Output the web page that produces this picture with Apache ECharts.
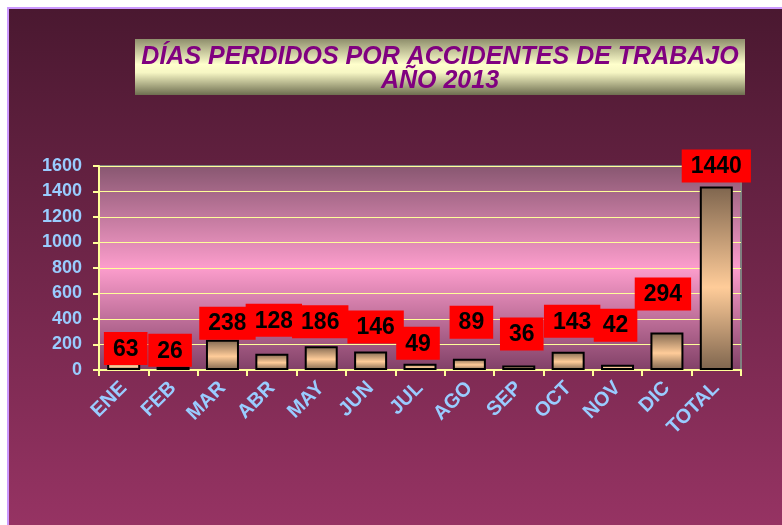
<!DOCTYPE html>
<html lang="es">
<head>
    <meta charset="UTF-8">
    <title>Días perdidos por accidentes de trabajo 2013</title>
    <script src="https://cdn.jsdelivr.net/npm/echarts@6/dist/echarts.min.js"></script>
    <style>
        html, body { margin: 0; padding: 0; background: #ffffff; }
        #frame {
            position: absolute; left: 7px; top: 7px;
            width: 775px; height: 518px;
            border-left: 2px solid #cc99ff; border-top: 2px solid #cc99ff;
        }
        #chart { width: 773px; height: 516px; }
    </style>
</head>
<body>
<div id="frame"><div id="chart"></div></div>
<script type="text/javascript">
    // datos
    var meses = ['ENE', 'FEB', 'MAR', 'ABR', 'MAY', 'JUN', 'JUL', 'AGO', 'SEP', 'OCT', 'NOV', 'DIC', 'TOTAL'];
    var dias = [63, 26, 238, 128, 186, 146, 49, 89, 36, 143, 42, 294, 1440];
    var ticksY = [0, 200, 400, 600, 800, 1000, 1200, 1400, 1600];

    // desplazamiento de cada etiqueta (como quedaron en el original)
    var despl = [[2, 3], [-3, 0], [5, 0], [2, -17], [-1, -8], [5, -8], [-2, -4],
                 [2, -20], [3, -15], [4, -14], [-2, -23], [-4, -22], [0, -4]];

    var myChart = echarts.init(document.getElementById('chart'));

    var datos = dias.map(function (v, i) {
        return { value: v, label: { offset: despl[i] } };
    });

    var option = {
        animation: false,
        backgroundColor: new echarts.graphic.LinearGradient(0, 0, 0, 1, [
            { offset: 0, color: '#4a1830' },
            { offset: 1, color: '#963363' }
        ]),
        graphic: [
            {
                type: 'rect', z: 1,
                shape: { x: 126, y: 30, width: 610, height: 56 },
                style: {
                    fill: new echarts.graphic.LinearGradient(0, 0, 0, 1, [
                        { offset: 0, color: '#8e8e6c' },
                        { offset: 0.45, color: '#ffffcc' },
                        { offset: 0.6, color: '#f6f6c4' },
                        { offset: 1, color: '#6e6e50' }
                    ])
                }
            },
            {
                type: 'text', z: 2,
                x: 431, y: 60,
                style: {
                    text: 'DÍAS PERDIDOS POR ACCIDENTES DE TRABAJO\nAÑO 2013',
                    fill: '#800080',
                    font: 'italic bold 25px "Liberation Sans", Arial, sans-serif',
                    lineHeight: 24,
                    align: 'center',
                    verticalAlign: 'middle'
                }
            }
        ],
        grid: {
            left: 90, top: 157, right: 41, bottom: 155,
            show: true,
            borderColor: '#808080', borderWidth: 2,
            backgroundColor: new echarts.graphic.LinearGradient(0, 0, 0, 1, [
                { offset: 0, color: '#875670' },
                { offset: 0.5, color: '#fc9dcc' },
                { offset: 1, color: '#804066' }
            ])
        },
        xAxis: {
            type: 'category',
            data: meses,
            axisLine: { lineStyle: { color: '#ffff99', width: 2 } },
            axisTick: { show: true, length: 6, lineStyle: { color: '#ffff99', width: 2 } },
            axisLabel: {
                rotate: 45, margin: 15, interval: 0,
                color: '#99ccff', fontSize: 20, fontWeight: 'bold',
                fontFamily: '"Liberation Sans", Arial, sans-serif'
            }
        },
        yAxis: {
            type: 'value',
            min: ticksY[0], max: ticksY[ticksY.length - 1], interval: 200,
            axisLine: { show: true, lineStyle: { color: '#ffff99', width: 2 } },
            axisTick: { show: true, length: 6, lineStyle: { color: '#ffff99', width: 2 } },
            splitLine: { lineStyle: { color: '#ffff99', width: 1 } },
            axisLabel: {
                margin: 17,
                color: '#99ccff', fontSize: 18, fontWeight: 'bold',
                fontFamily: '"Liberation Sans", Arial, sans-serif',
                formatter: function (v) { return String(v); }
            }
        },
        series: [{
            type: 'bar',
            data: datos,
            barWidth: 33,
            itemStyle: {
                borderColor: '#000000', borderWidth: 2,
                color: new echarts.graphic.LinearGradient(0, 0, 0, 1, [
                    { offset: 0, color: '#7e654e' },
                    { offset: 0.55, color: '#ffcc99' },
                    { offset: 1, color: '#7e654e' }
                ])
            },
            label: {
                show: true, position: 'top', distance: 0,
                color: '#000000', fontSize: 23, fontWeight: 'bold',
                fontFamily: '"Liberation Sans", Arial, sans-serif',
                backgroundColor: '#ff0000',
                padding: [6, 9, 4, 9]
            }
        }]
    };

    myChart.setOption(option);
</script>
</body>
</html>
